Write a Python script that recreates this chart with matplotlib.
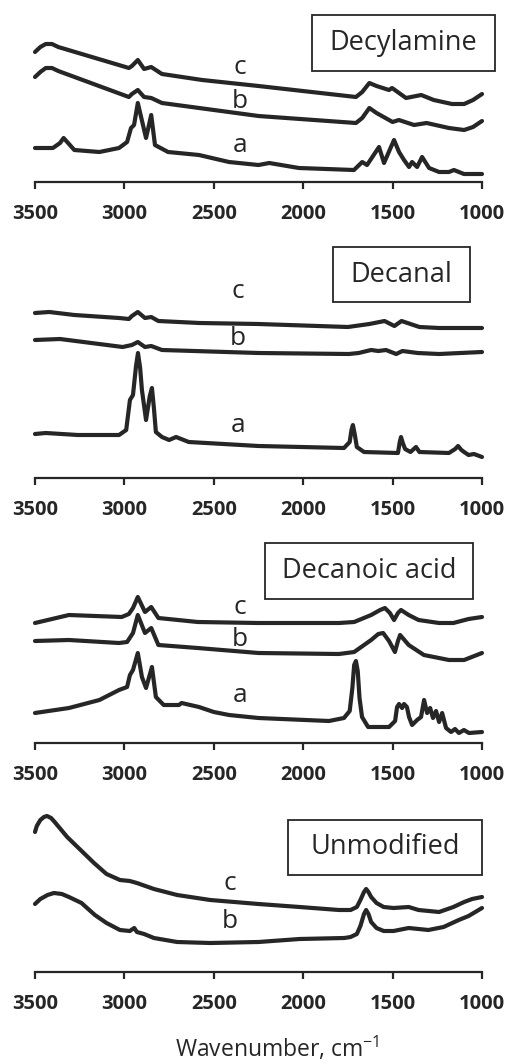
import matplotlib
matplotlib.use("Agg")
import matplotlib.pyplot as plt
from matplotlib.patches import Rectangle

plt.rcParams['font.family'] = ['Open Sans', 'DejaVu Sans']
plt.rcParams['mathtext.fontset'] = 'custom'
plt.rcParams['mathtext.rm'] = 'Open Sans'

# FTIR spectra, arbitrary absorbance units (stacked), wavenumbers in cm-1
# --- Decylamine
dec_amine_c_wn = [3500, 3470, 3440, 3405, 3370, 2975, 2958, 2925, 2890, 2850, 2790, 2565, 2250, 1705, 1670, 1630,
                  1590, 1520, 1503, 1425, 1340, 1270, 1168, 1100, 1050, 1000]
dec_amine_c = [130, 135, 138, 138, 135, 114, 116, 122, 113, 115, 108, 102, 96, 85, 90, 99,
               96, 92, 94, 84, 87, 82, 78, 78, 82, 88]
dec_amine_b_wn = [3500, 3470, 3440, 3405, 3370, 2975, 2958, 2925, 2890, 2850, 2790, 2250, 1705, 1670, 1630,
                  1590, 1500, 1465, 1380, 1310, 1185, 1100, 1050, 1000]
dec_amine_b = [105, 110, 114, 114, 111, 85, 88, 92, 85, 84, 79, 66, 59, 64, 74,
               69, 60, 62, 57, 59, 54, 52, 55, 61]
dec_amine_a_wn = [3500, 3400, 3360, 3340, 3315, 3280, 3140, 3030, 2985, 2963, 2946, 2925, 2879, 2850, 2829, 2756, 2583, 2415,
                  2250, 2190, 2024, 1716, 1670, 1643, 1576, 1548, 1492, 1464, 1436, 1408, 1391, 1363, 1335, 1296, 1240,
                  1185, 1157, 1101, 1000]
dec_amine_a = [34, 34, 39, 44, 39, 32, 30, 34, 40, 54, 57, 79, 44, 67, 37, 30, 27, 20,
               17, 19, 14, 12, 20, 17, 35, 19, 42, 30, 22, 15, 20, 15, 25, 14, 10,
               10, 12, 8, 8]

# --- Decanal
decanal_c_wn = [3500, 3420, 3280, 3030, 2975, 2958, 2925, 2885, 2850, 2810, 2580, 2250, 1750, 1630, 1545, 1490, 1450, 1350, 1240, 1000]
decanal_c = [165, 166, 163, 160, 159, 162, 166, 160, 161, 157, 155, 154, 151, 154, 157, 152, 157, 151, 150, 150]
decanal_b_wn = [3500, 3360, 3010, 2958, 2925, 2885, 2850, 2790, 2250, 1745, 1690, 1620, 1580, 1537, 1480, 1445, 1360, 1240, 1000]
decanal_b = [138, 139, 131, 133, 136, 131, 132, 128, 125, 124, 125, 128, 127, 128, 124, 127, 125, 124, 126]
decanal_a_wn = [3500, 3440, 3260, 3030, 2990, 2969, 2952, 2935, 2924, 2912, 2902, 2879, 2858, 2846, 2835, 2824, 2790, 2750,
                2711, 2640, 2250, 1772, 1740, 1730, 1722, 1712, 1700, 1660, 1470, 1460, 1453, 1443, 1430, 1400, 1369,
                1350, 1185, 1150, 1134, 1115, 1100, 1075, 1045, 1000]
decanal_a = [44, 45, 43, 43, 48, 78, 83, 112, 125, 110, 88, 58, 82, 90, 70, 46, 41, 38,
             41, 36, 32, 30, 36, 48, 53, 44, 31, 26, 25, 36, 41, 35, 29, 26, 31,
             26, 25, 29, 32, 28, 26, 23, 24, 21]

# --- Decanoic acid
acid_c_wn = [3500, 3310, 3015, 2975, 2952, 2925, 2885, 2850, 2810, 2590, 2250, 1800, 1715, 1620, 1570, 1543, 1515,
             1492, 1470, 1453, 1410, 1355, 1240, 1160, 1075, 1000]
acid_c = [120, 128, 126, 129, 135, 146, 131, 136, 125, 121, 120, 120, 121, 128, 133, 135, 130,
          123, 130, 133, 128, 123, 120, 120, 124, 126]
acid_b_wn = [3500, 3310, 3030, 2985, 2952, 2925, 2885, 2850, 2810, 2590, 2250, 1800, 1715, 1620, 1580, 1553, 1520,
             1487, 1470, 1458, 1410, 1325, 1185, 1100, 1000]
acid_b = [102, 103, 100, 101, 110, 128, 110, 115, 98, 95, 90, 89, 91, 103, 109, 110, 102,
          91, 102, 108, 98, 88, 83, 83, 90]
acid_a_wn = [3500, 3310, 3140, 3030, 2985, 2969, 2952, 2925, 2902, 2879, 2846, 2824, 2780, 2695, 2680, 2583, 2500, 2415, 2250,
             1856, 1772, 1740, 1725, 1715, 1705, 1695, 1685, 1671, 1637, 1520, 1486, 1475, 1464, 1447, 1436, 1420, 1408, 1391,
             1363, 1341, 1324, 1307, 1290, 1274, 1257, 1240, 1223, 1201, 1173, 1151, 1129, 1101, 1073, 1000]
acid_a = [30, 35, 43, 53, 56, 68, 73, 90, 66, 55, 76, 46, 38, 38, 40, 36, 31, 28, 25,
          22, 25, 32, 55, 78, 82, 72, 45, 26, 16, 16, 22, 36, 39, 35, 39, 36, 26, 18,
          23, 26, 43, 30, 35, 25, 32, 21, 30, 15, 11, 14, 10, 13, 10, 11]

# --- Unmodified
unmod_c_wn = [3500, 3490, 3470, 3450, 3433, 3410, 3390, 3320, 3245, 3170, 3100, 3025, 2970, 2930, 2835, 2705, 2520, 2250,
              2020, 1800, 1735, 1700, 1680, 1660, 1648, 1635, 1620, 1590, 1550, 1495, 1410, 1355, 1240, 1160, 1100, 1055, 1000]
unmod_c = [140, 146, 152, 155, 156, 154, 150, 135, 122, 109, 98, 92, 91, 89, 83, 77, 72, 68,
           65, 62, 62, 65, 72, 80, 83, 80, 75, 69, 65, 64, 65, 62, 60, 65, 70, 73, 75]
unmod_b_wn = [3500, 3470, 3430, 3394, 3350, 3310, 3240, 3165, 3100, 3025, 2970, 2945, 2930, 2890, 2835, 2705, 2520, 2250,
              2020, 1770, 1735, 1700, 1680, 1660, 1648, 1635, 1620, 1590, 1550, 1495, 1410, 1300, 1215, 1130, 1075, 1000]
unmod_b = [68, 73, 77, 79, 78, 75, 69, 57, 49, 42, 41, 44, 40, 38, 34, 30, 29, 30,
           33, 34, 35, 38, 46, 58, 62, 58, 50, 44, 41, 41, 44, 42, 45, 52, 56, 64]

ticks = [3500, 3000, 2500, 2000, 1500, 1000]

W, H = 510, 1064
fig = plt.figure(figsize=(W / 100, H / 100), dpi=100)
col = '#262626'


def fx(px):
    return px / W


def fy(py):
    return 1 - py / H


panels = [
    # (axis line y, top y, name, box (x0, y0, x1, y1), curves, letter positions)
    (182, 2, 'Decylamine', (312, 15, 495, 71),
     [(dec_amine_a_wn, dec_amine_a), (dec_amine_b_wn, dec_amine_b), (dec_amine_c_wn, dec_amine_c)],
     [('c', 240, 68), ('b', 240, 101), ('a', 240, 145)]),
    (478, 240, 'Decanal', (333, 247, 470, 302),
     [(decanal_a_wn, decanal_a), (decanal_b_wn, decanal_b), (decanal_c_wn, decanal_c)],
     [('c', 238, 291), ('b', 238, 339), ('a', 238, 426)]),
    (743, 535, 'Decanoic acid', (265, 543, 473, 599),
     [(acid_a_wn, acid_a), (acid_b_wn, acid_b), (acid_c_wn, acid_c)],
     [('c', 240, 607), ('b', 240, 639), ('a', 240, 696)]),
    (972, 800, 'Unmodified', (288, 820, 482, 875),
     [(unmod_b_wn, unmod_b), (unmod_c_wn, unmod_c)],
     [('c', 230, 884), ('b', 230, 921)]),
]

for axis_y, top_y, name, box, curves, letters in panels:
    h = axis_y - top_y
    ax = fig.add_axes([fx(35), fy(axis_y), fx(447), h / H])
    for wn, ab in curves:
        ax.plot(wn, ab, color=col, lw=3, solid_joinstyle='round', solid_capstyle='round', clip_on=False)
    ax.set_xlim(3500, 1000)
    ax.set_ylim(0, h)
    ax.patch.set_alpha(0)
    for s in ['left', 'right', 'top']:
        ax.spines[s].set_visible(False)
    ax.spines['bottom'].set_linewidth(1.6)
    ax.spines['bottom'].set_color(col)
    ax.set_yticks([])
    ax.set_xticks(ticks)
    ax.set_xticklabels([str(t) for t in ticks], fontweight='bold')
    ax.tick_params(axis='x', direction='out', length=5, width=1.6, color=col,
                   pad=11, labelsize=14.5, labelcolor=col)

    x0, y0, x1, y1 = box
    fig.add_artist(Rectangle((fx(x0), fy(y1)), fx(x1 - x0), (y1 - y0) / H,
                             transform=fig.transFigure, fill=False, ec=col, lw=1.3))
    fig.text(fx((x0 + x1) / 2), fy((y0 + y1) / 2), name, ha='center', va='center',
             fontsize=19.5, color=col)
    for lt, lx, ly in letters:
        fig.text(fx(lx), fy(ly), lt, ha='center', va='center', fontsize=19, color=col)

fig.text(fx(277), fy(1049), r'Wavenumber, cm$^{\mathregular{-1}}$', ha='center', va='center',
         fontsize=16.5, color=col)

fig.savefig('out.png', dpi=100)
